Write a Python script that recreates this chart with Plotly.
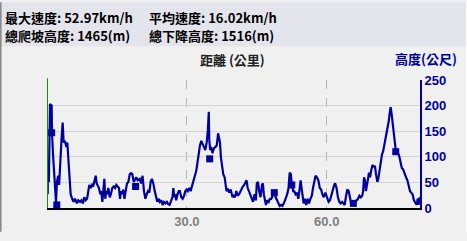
import plotly.graph_objects as go

# ---------------- data ----------------
dist_a = [0.15, 0.2, 0.4, 0.64, 1.0, 1.07, 1.29, 1.5, 1.7, 1.93,
          2.14, 2.4, 2.6, 2.86, 3.15, 3.36, 3.57, 3.86, 4.15, 4.36,
          4.57, 4.79, 5.07, 5.4, 5.7, 6.0, 6.4, 6.7, 7.1, 7.4,
          7.7, 8.0, 8.3, 8.6, 8.86, 9.07, 9.36, 9.65, 9.9, 10.2,
          10.45, 10.66, 10.87, 11.15, 11.44, 11.65, 11.87, 12.07, 12.3, 12.5,
          12.7, 12.9, 13.15, 13.45, 13.7, 14.0, 14.3, 14.6, 14.87, 15.15,
          15.44, 15.66, 15.87, 16.15, 16.37, 16.6, 16.9, 17.16, 17.45, 17.74,
          18.0, 18.3, 18.6, 18.87, 19.15, 19.45]
elev_a = [27, 84, 51, 203, 200, 147, 105, 69, 33, 12,
          51, 63, 45, 99, 140, 167, 128, 131, 119, 128,
          99, 66, 27, 18, 12, 18, 9, 15, 12, 15,
          9, 21, 15, 18, 30, 45, 39, 45, 42, 51,
          63, 48, 45, 39, 27, 33, 12, 33, 57, 18,
          33, 27, 39, 21, 27, 39, 42, 39, 45, 42,
          39, 18, 33, 27, 36, 18, 33, 48, 51, 66,
          68, 66, 51, 57, 60, 54]

dist_b = [19.9, 20.2, 20.5, 20.8, 21.1, 21.4, 21.66, 21.94, 22.24, 22.5,
          22.8, 23.1, 23.4, 23.66, 23.95, 24.2, 24.5, 24.8, 25.1, 25.4,
          25.7, 25.95, 26.3, 26.6, 26.9, 27.1, 27.3, 27.5, 27.7, 28.0,
          28.25, 28.5, 28.8, 29.1, 29.4, 29.66, 29.95, 30.2, 30.5, 30.8,
          31.1, 31.4, 31.7, 32.0, 32.2, 32.5, 32.8, 33.1, 33.4, 33.7,
          33.95, 34.25, 34.5, 34.7, 34.8, 35.0, 35.2, 35.5, 35.8, 36.1,
          36.4, 36.7, 36.9, 37.1, 37.3, 37.5, 37.8, 38.1, 38.3, 38.5,
          38.8, 39.1, 39.4]
elev_b = [57, 48, 63, 33, 18, 27, 33, 30, 51, 57,
          48, 33, 21, 12, 18, 12, 15, 6, 12, 9,
          12, 8, 6, 15, 21, 39, 21, 27, 15, 27,
          33, 33, 21, 18, 24, 33, 36, 33, 39, 33,
          42, 51, 60, 72, 84, 105, 122, 131, 125, 117,
          113, 128, 152, 188, 134, 113, 119, 107, 117, 119,
          122, 146, 134, 128, 99, 81, 66, 60, 48, 33,
          36, 30, 36]

dist_c = [39.8, 40.0, 40.3, 40.6, 40.9, 41.2, 41.5, 41.8, 42.0, 42.3,
          42.6, 42.8, 43.05, 43.3, 43.6, 43.9, 44.2, 44.5, 44.8, 45.0,
          45.25, 45.5, 45.8, 46.1, 46.3, 46.5, 46.7, 46.96, 47.25, 47.55,
          47.8, 48.1, 48.4, 48.75, 49.05, 49.3, 49.6, 49.9, 50.2, 50.5,
          50.8, 51.1, 51.3, 51.6, 51.8, 52.05, 52.3, 52.5, 52.8, 53.0,
          53.3, 53.6, 53.9, 54.2, 54.4, 54.6, 54.8, 55.05, 55.3, 55.6,
          55.9, 56.2, 56.5, 56.8, 57.05, 57.3, 57.6, 57.9, 58.2, 58.5,
          58.8, 59.05, 59.35]
elev_c = [21, 24, 21, 33, 24, 27, 33, 39, 42, 45,
          51, 54, 39, 33, 24, 18, 12, 27, 15, 48,
          51, 33, 21, 45, 48, 27, 18, 6, 15, 12,
          18, 18, 24, 30, 21, 15, 9, 4, 6, 4,
          9, 15, 21, 30, 39, 69, 66, 45, 33, 33,
          27, 30, 18, 39, 54, 39, 27, 9, 18, 6,
          18, 9, 18, 24, 39, 54, 63, 60, 54, 39,
          36, 27, 21]

dist_d = [59.7, 60.1, 60.4, 60.7, 61.0, 61.3, 61.6, 61.8, 62.1, 62.4,
          62.7, 63.0, 63.3, 63.55, 63.85, 64.1, 64.4, 64.7, 65.0, 65.3,
          65.6, 65.7, 66.1, 66.4, 66.7, 67.0, 67.3, 67.6, 67.8, 68.0,
          68.2, 68.4, 68.6, 68.8, 69.06, 69.3, 69.5, 69.8, 70.1, 70.35,
          70.56, 70.85, 71.05, 71.3, 71.6, 71.85, 72.1, 72.4, 72.7, 73.0,
          73.3, 73.5, 73.7, 73.9, 74.1, 74.4, 74.6, 74.8, 75.1, 75.4,
          75.6, 75.85, 76.1, 76.4, 76.7, 77.0, 77.3, 77.6, 77.85, 78.1,
          78.4, 78.7, 79.0, 79.3, 79.5, 79.7, 79.9]
elev_d = [30, 18, 12, 15, 27, 39, 45, 48, 39, 21,
          12, 9, 12, 9, 6, 21, 36, 33, 15, 6,
          9, 9, 12, 15, 18, 24, 21, 24, 33, 60,
          54, 33, 48, 54, 69, 60, 72, 84, 81, 81,
          66, 51, 57, 72, 93, 105, 111, 125, 140, 155,
          170, 185, 197, 185, 170, 155, 128, 113, 107, 105,
          99, 87, 78, 75, 66, 60, 54, 42, 33, 30,
          27, 15, 9, 6, 18, 6, 21]

marker_km = [1.0, 2.1, 19.0, 34.9, 48.75, 52.5, 65.7, 74.8]
marker_m = [147, 6, 42, 96, 30, 45, 9, 110]

x_tick_vals = [30, 60]
x_tick_text = ["30.0", "60.0"]

stats_line1 = ["最大速度: 52.97km/h", "平均速度: 16.02km/h"]
stats_line2 = ["總爬坡高度: 1465(m)", "總下降高度: 1516(m)"]
x_title = "距離 (公里)"
y_title = "高度(公尺)"

# ---------------- figure ----------------
W, H = 467, 241
ML, MR, MT, MB = 47, 47, 80, 21
PW, PH = W - ML - MR, H - MT - MB

def px(xp):
    return (xp - ML) / PW

def py(yp):
    return (H - MB - yp) / PH

BLUE = "#0000a0"
CJK = "Noto Sans CJK TC"
LAT = "Liberation Sans"

dist = dist_a + dist_b + dist_c + dist_d
elev = elev_a + elev_b + elev_c + elev_d

fig = go.Figure()
fig.add_trace(go.Scatter(x=dist, y=elev, mode="lines",
                         line=dict(color=BLUE, width=2.2), hoverinfo="skip"))
fig.add_trace(go.Scatter(x=marker_km, y=marker_m, mode="markers",
                         marker=dict(symbol="square", size=7, color=BLUE,
                                     line=dict(width=0)), hoverinfo="skip"))

shapes = [
    # top band
    dict(type="rect", xref="paper", yref="paper", x0=px(-5), x1=px(W + 5),
         y0=py(43), y1=py(-5), fillcolor="#e4e4ec", line=dict(width=0), layer="below"),
    # left border
    dict(type="line", xref="paper", yref="paper", x0=px(0.8), x1=px(0.8),
         y0=py(H + 5), y1=py(-5), line=dict(color="#8a8a8a", width=1.6)),
    # right edge highlight
    dict(type="line", xref="paper", yref="paper", x0=px(466.5), x1=px(466.5),
         y0=py(H + 5), y1=py(-5), line=dict(color="#ffffff", width=1)),
    # green start line
    dict(type="line", xref="x", yref="paper", x0=0, x1=0, y0=0, y1=py(78),
         line=dict(color="#009a00", width=2)),
]

annotations = []
for i, t in enumerate(stats_line1):
    annotations.append(dict(text=t, x=px([3, 147][i]), y=py(11.5), xref="paper", yref="paper",
                            xanchor="left", yanchor="middle", showarrow=False,
                            font=dict(family=CJK, size=13, color="#000000", weight="bold")))
for i, t in enumerate(stats_line2):
    annotations.append(dict(text=t, x=px([3, 147][i]), y=py(31.5), xref="paper", yref="paper",
                            xanchor="left", yanchor="middle", showarrow=False,
                            font=dict(family=CJK, size=13, color="#000000", weight="bold")))
annotations.append(dict(text=x_title, x=px(232.5), y=py(57.5), xref="paper", yref="paper",
                        xanchor="center", yanchor="middle", showarrow=False,
                        font=dict(family=CJK, size=13, color="#222222", weight="bold")))
annotations.append(dict(text=y_title, x=px(426), y=py(57), xref="paper", yref="paper",
                        xanchor="center", yanchor="middle", showarrow=False,
                        font=dict(family=CJK, size=13, color=BLUE, weight="bold")))

fig.update_layout(
    width=W, height=H,
    margin=dict(l=ML, r=MR, t=MT, b=MB, pad=0),
    paper_bgcolor="#f0f0f0", plot_bgcolor="#f0f0f0",
    showlegend=False,
    shapes=shapes, annotations=annotations,
    xaxis=dict(range=[0, 80], tickvals=x_tick_vals, ticktext=x_tick_text,
               showgrid=True, gridcolor="#b4b4b4", griddash="dash", gridwidth=1,
               zeroline=False, showline=True, linecolor="#000000", linewidth=2,
               ticks="", tickfont=dict(family=LAT, size=13, color="#808080", weight="bold")),
    yaxis=dict(range=[0, 250], side="right", tick0=0, dtick=50,
               showgrid=True, gridcolor="#d4d4d4", gridwidth=1,
               zeroline=False, showline=True, linecolor=BLUE, linewidth=2,
               ticks="", tickfont=dict(family=LAT, size=13, color=BLUE, weight="bold")),
)

fig.write_html("out.html")
